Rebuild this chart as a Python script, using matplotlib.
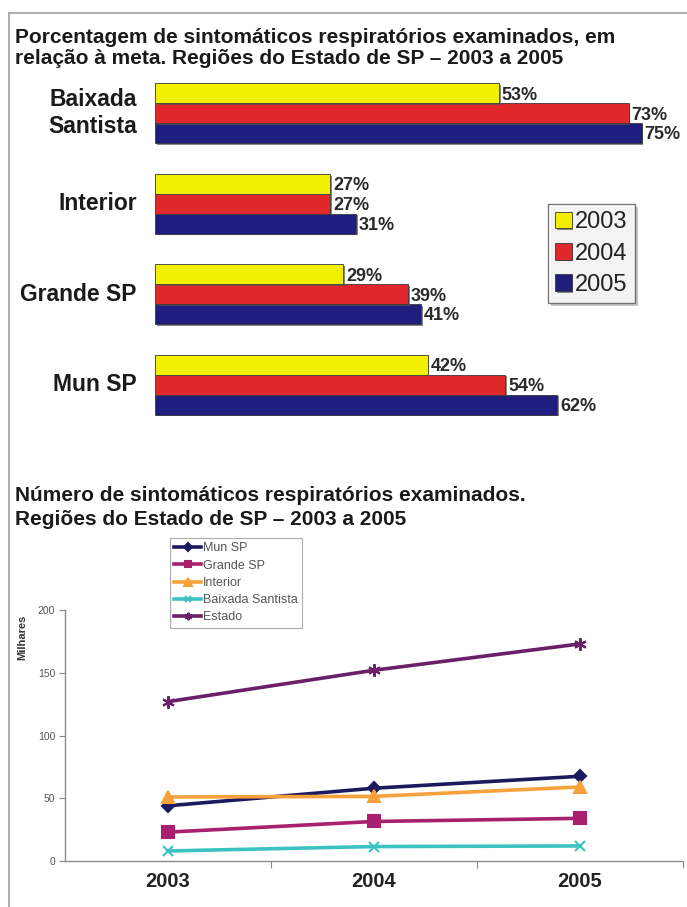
import matplotlib
matplotlib.use("Agg")
import matplotlib.pyplot as plt
import matplotlib.patheffects as pe
from matplotlib.lines import Line2D
import numpy as np

plt.rcParams['font.family'] = ['Liberation Sans', 'DejaVu Sans']

# ---- data: share of target reached (%) ----
regions = ["Baixada\nSantista", "Interior", "Grande SP", "Mun SP"]
years = ["2003", "2004", "2005"]
pct_2003 = [53, 27, 29, 42]
pct_2004 = [73, 27, 39, 54]
pct_2005 = [75, 31, 41, 62]

# ---- data: people examined (thousands) ----
line_years = ["2003", "2004", "2005"]
mun_sp = [44, 58, 67.5]
grande_sp = [23, 31.5, 34]
interior = [51, 51.5, 59]
baixada = [8, 11.5, 12]
estado = [127, 152, 173]
y_ticks = [0, 50, 100, 150, 200]

W, H = 687, 907
fig = plt.figure(figsize=(W / 100, H / 100), dpi=100)
fig.patch.set_facecolor("white")


def px_axes(left, top, right, bottom):
    return fig.add_axes([left / W, 1 - bottom / H, (right - left) / W, (bottom - top) / H])


def fx(x):
    return x / W


def fy(y):
    return 1 - y / H


# page frame (top and left rules)
fig.add_artist(Line2D([fx(9), fx(687)], [fy(13), fy(13)], color="#a0a0a0", lw=1.2))
fig.add_artist(Line2D([fx(9), fx(9)], [fy(13), fy(907)], color="#a0a0a0", lw=1.2))

# ---- titles ----
title_kw = dict(fontsize=15, fontweight="bold", color="#1a1a1a", ha="left", va="baseline")
fig.text(fx(15), fy(43), "Porcentagem de sintomáticos respiratórios examinados, em", **title_kw)
fig.text(fx(15), fy(64), "relação à meta. Regiões do Estado de SP – 2003 a 2005", **title_kw)
fig.text(fx(15), fy(501), "Número de sintomáticos respiratórios examinados.", **title_kw)
fig.text(fx(15), fy(525), "Regiões do Estado de SP – 2003 a 2005", **title_kw)

# ---- horizontal bar chart ----
bar_colors = ["#f2f000", "#e0282a", "#1f1d7d"]
ax1 = px_axes(155, 68, 155 + 80 * 6.49, 430)
ax1.set_xlim(0, 80)
ax1.set_ylim(3.5, -0.5)
ax1.axis("off")

pos = np.arange(len(regions))
bh = 0.22
shadow = [pe.SimplePatchShadow(offset=(1.2, -1.2), shadow_rgbFace="#555555", alpha=0.7), pe.Normal()]
for k, (vals, col) in enumerate(zip([pct_2003, pct_2004, pct_2005], bar_colors)):
    ys = pos + (k - 1) * bh
    bars = ax1.barh(ys, vals, height=bh, color=col, edgecolor="#3a3a3a", linewidth=0.6,
                    label=years[k], zorder=3 - k * 0.1)
    for b in bars:
        b.set_path_effects(shadow)
    for y, v in zip(ys, vals):
        ax1.text(v + 0.45, y + 0.02, f"{v}%", fontsize=13, fontweight="bold", color="#2a2a2a",
                 ha="left", va="center")

for i, name in enumerate(regions):
    ax1.text(-2.8, i, name, fontsize=16.5, fontweight="bold", color="#1a1a1a",
             ha="right", va="center", linespacing=1.2)

leg1 = fig.legend(*ax1.get_legend_handles_labels(), loc="upper left",
                  bbox_to_anchor=(fx(548), fy(204)), fontsize=17, frameon=True,
                  fancybox=False, edgecolor="#555555", handlelength=0.7, handleheight=0.7,
                  handletextpad=0.15, labelspacing=0.4, borderpad=0.3, borderaxespad=0)
leg1.get_frame().set_linewidth(1.0)
leg1.get_frame().set_path_effects([pe.SimplePatchShadow(offset=(2, -2), shadow_rgbFace="#444444"), pe.Normal()])
for t in leg1.get_texts():
    t.set_color("#222222")

# ---- line chart ----
ax2 = px_axes(65, 610, 683, 861)
ax2.set_xlim(-0.5, 2.5)
ax2.set_ylim(0, 200)
xs = np.arange(len(line_years))
series = [
    ("Mun SP", mun_sp, "#1c1a5e", "D", 6.5),
    ("Grande SP", grande_sp, "#a8206e", "s", 8),
    ("Interior", interior, "#f7a13a", "^", 8.5),
    ("Baixada Santista", baixada, "#3cc2c2", "x", 7),
    ("Estado", estado, "#6b1f68", (6, 2, 0), 9),
]
for name, vals, col, mk, ms in series:
    ax2.plot(xs, vals, color=col, lw=2.6, marker=mk, markersize=ms, markeredgewidth=1.5,
             markeredgecolor=col, markerfacecolor=col, label=name)

for s in ["top", "right"]:
    ax2.spines[s].set_visible(False)
for s in ["left", "bottom"]:
    ax2.spines[s].set_color("#8a8a8a")
    ax2.spines[s].set_linewidth(1.0)
ax2.set_yticks(y_ticks)
ax2.set_yticklabels([str(v) for v in y_ticks], fontsize=7.5, color="#555555")
ax2.tick_params(axis="y", length=4, color="#8a8a8a", pad=3)
ax2.set_xticks([0.5, 1.5, 2.5])
ax2.set_xticklabels([])
ax2.tick_params(axis="x", length=5, color="#8a8a8a", direction="out")
for x, lab in zip(xs, line_years):
    ax2.text(x, -9, lab, fontsize=14.5, fontweight="bold", color="#222222",
             ha="center", va="top", transform=ax2.transData)

fig.text(fx(22), fy(637), "Milhares", rotation=90, fontsize=8, fontweight="bold",
         color="#333333", ha="center", va="center")

leg2 = fig.legend(*ax2.get_legend_handles_labels(), loc="upper left",
                  bbox_to_anchor=(fx(170), fy(538)), fontsize=9, frameon=True,
                  fancybox=False, edgecolor="#999999", handlelength=2.1, handletextpad=0.2,
                  labelspacing=0.42, borderpad=0.35, borderaxespad=0, markerscale=0.6)
leg2.get_frame().set_linewidth(0.8)
for t in leg2.get_texts():
    t.set_color("#555555")

fig.savefig("out.png", dpi=100, facecolor="white")
